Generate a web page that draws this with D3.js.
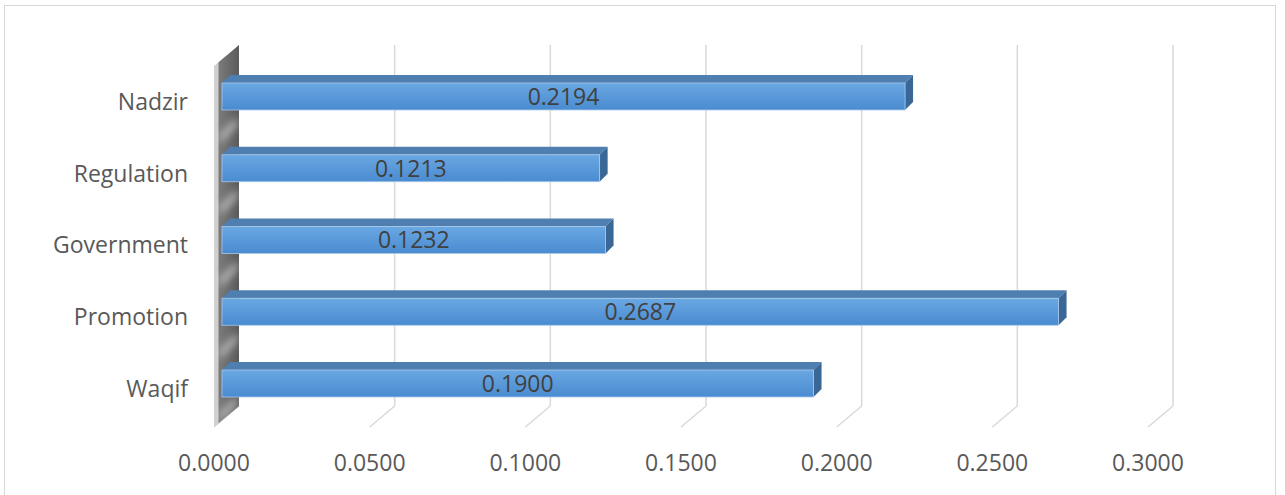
<!DOCTYPE html>
<html>
<head>
<meta charset="utf-8">
<script src="https://cdn.jsdelivr.net/npm/d3@7"></script>
<style>
  body { margin: 0; background: #fff; }
  text { font-family: "Open Sans", sans-serif; }
</style>
</head>
<body>
<div id="chart"></div>
<script>
// data, top to bottom as drawn
var categories = ["Nadzir", "Regulation", "Government", "Promotion", "Waqif"];
var values = [0.2194, 0.1213, 0.1232, 0.2687, 0.1900];
var tickValues = [0, 0.05, 0.1, 0.15, 0.2, 0.25, 0.3];

var W = 1285, H = 495;
var depthX = 25, depthY = 21;   // floor depth offset (back -> front)
var barDX = 8, barDY = 8;       // bar thickness

var svg = d3.select("#chart").append("svg")
  .attr("width", W).attr("height", H);

var defs = svg.append("defs");
var gFront = defs.append("linearGradient").attr("id", "front")
  .attr("x1", 0).attr("y1", 0).attr("x2", 0).attr("y2", 1);
gFront.append("stop").attr("offset", "0%").attr("stop-color", "#6aa8e2");
gFront.append("stop").attr("offset", "100%").attr("stop-color", "#4a8bd0");
var gWall = defs.append("linearGradient").attr("id", "wall")
  .attr("x1", 0).attr("y1", 0).attr("x2", 1).attr("y2", 0);
gWall.append("stop").attr("offset", "0%").attr("stop-color", "#d0d0d0");
gWall.append("stop").attr("offset", "14%").attr("stop-color", "#cfcfcf");
gWall.append("stop").attr("offset", "22%").attr("stop-color", "#7a7a7a");
gWall.append("stop").attr("offset", "100%").attr("stop-color", "#5a5a5a");
defs.append("filter").attr("id", "blur")
  .attr("x", "-50%").attr("y", "-50%").attr("width", "200%").attr("height", "200%")
  .append("feGaussianBlur").attr("stdDeviation", 4);

// outer border
svg.append("rect")
  .attr("x", 4.5).attr("y", 5.5).attr("width", 1271).attr("height", 495)
  .attr("fill", "none").attr("stroke", "#d9d9d9");

// scales: back wall x, bar front face x
var xBack = d3.scaleLinear().domain([0, 0.3]).range([239, 1173]);
var xBar = d3.scaleLinear().domain([0, 0.3]).range([222, 1156]);
var y = d3.scaleBand().domain(categories).range([83, 397]).paddingInner(0.624);

var backTop = 45, backBottom = 406;

// gridlines on back wall + floor diagonals
var grid = svg.append("g");
tickValues.forEach(function (t) {
  var xb = xBack(t);
  if (t > 0) {
    grid.append("line")
      .attr("x1", xb).attr("x2", xb).attr("y1", backTop).attr("y2", backBottom)
      .attr("stroke", "#d9d9d9").attr("stroke-width", 1.5);
  }
  grid.append("line")
    .attr("x1", xb).attr("y1", backBottom)
    .attr("x2", xb - depthX).attr("y2", backBottom + depthY)
    .attr("stroke", "#d9d9d9").attr("stroke-width", 1.5);
});

// left wall
var wx = xBack(0);
var wallD = "M" + wx + "," + backTop + " L" + wx + "," + backBottom +
  " L" + (wx - depthX) + "," + (backBottom + depthY) +
  " L" + (wx - depthX) + "," + (backTop + depthY) + " Z";
defs.append("clipPath").attr("id", "wallClip").append("path").attr("d", wallD);
svg.append("path").attr("d", wallD).attr("fill", "url(#wall)");

// light streaks on the wall between bars
var gaps = categories.slice(1).map(function (d, i) {
  return (y(categories[i]) + y.bandwidth() + y(d)) / 2;
});
gaps.push(y(categories[categories.length - 1]) + y.bandwidth() + 14);
svg.append("g").attr("clip-path", "url(#wallClip)")
  .selectAll("path").data(gaps).enter().append("path")
  .attr("d", function (g) {
    var xl = wx - depthX + 6, xr = wx - 2;
    return "M" + xl + "," + (g + 4) + " L" + xr + "," + (g - 14) +
      " L" + xr + "," + (g - 8) + " L" + xl + "," + (g + 10) + " Z";
  })
  .attr("fill", "#e6e6e6").attr("filter", "url(#blur)");

// bars
var bars = svg.append("g").selectAll("g").data(categories).enter().append("g");
bars.each(function (d, i) {
  var g = d3.select(this);
  var x0 = xBar(0), x1 = xBar(values[i]);
  var yt = y(d), yb = y(d) + y.bandwidth();
  // top face
  g.append("path")
    .attr("d", "M" + x0 + "," + yt + " L" + (x0 + barDX) + "," + (yt - barDY) +
      " L" + (x1 + barDX) + "," + (yt - barDY) + " L" + x1 + "," + yt + " Z")
    .attr("fill", "#4f7fb0");
  // right face
  g.append("path")
    .attr("d", "M" + x1 + "," + yt + " L" + (x1 + barDX) + "," + (yt - barDY) +
      " L" + (x1 + barDX) + "," + (yb - barDY) + " L" + x1 + "," + yb + " Z")
    .attr("fill", "#3a6796");
  // front face
  g.append("rect")
    .attr("x", x0).attr("y", yt).attr("width", x1 - x0).attr("height", yb - yt)
    .attr("fill", "url(#front)")
    .attr("stroke", "#a9c9ea").attr("stroke-width", 0.8);
  // value label
  g.append("text")
    .attr("x", (x0 + x1) / 2).attr("y", (yt + yb) / 2)
    .attr("dy", "0.36em").attr("text-anchor", "middle")
    .style("font-size", "23px").style("fill", "#404040")
    .text(values[i].toFixed(4));
});

// category labels
svg.append("g").selectAll("text").data(categories).enter().append("text")
  .attr("x", 188)
  .attr("y", function (d) { return y(d) + y.bandwidth() / 2 + 5; })
  .attr("dy", "0.36em").attr("text-anchor", "end")
  .style("font-size", "23px").style("fill", "#595959")
  .text(function (d) { return d; });

// x tick labels at front edge
svg.append("g").selectAll("text").data(tickValues).enter().append("text")
  .attr("x", function (d) { return xBack(d) - depthX; })
  .attr("y", 463).attr("dy", "0.36em").attr("text-anchor", "middle")
  .style("font-size", "23px").style("fill", "#595959")
  .text(function (d) { return d.toFixed(4); });
</script>
</body>
</html>
